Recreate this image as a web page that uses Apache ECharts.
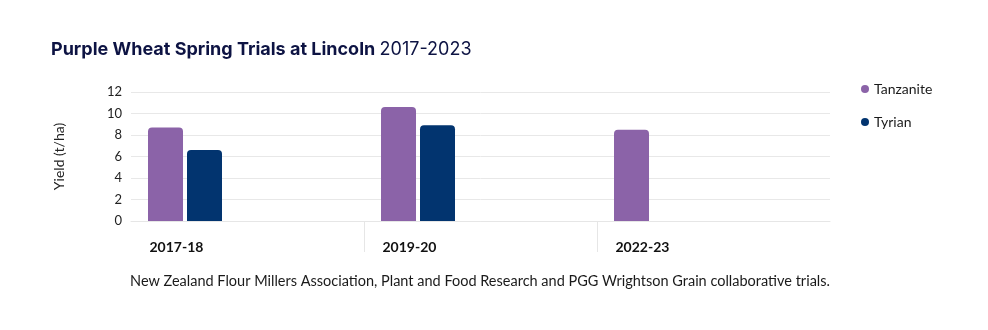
<!DOCTYPE html>
<html>
<head>
<meta charset="utf-8">
<script src="https://cdn.jsdelivr.net/npm/echarts@6/dist/echarts.min.js"></script>
<style>
html,body{margin:0;padding:0;background:#fff;}
#chart{width:988px;height:330px;}
</style>
</head>
<body>
<div id="chart"></div>
<script>
const categories = ['2017-18', '2019-20', '2022-23'];
const tanzanite = [8.7, 10.6, 8.5];
const tyrian = [6.6, 8.9, null];
const spacer = [null, null, null];
const seriesNames = ['Tanzanite', 'Tyrian'];
const yTicks = [0, 2, 4, 6, 8, 10, 12];
const boundaryTicks = [1, 2];

const FONT = 'Lato';
const TITLE_FONT = 'Inter';
const chart = echarts.init(document.getElementById('chart'), null, {renderer: 'canvas'});

chart.setOption({
  animation: false,
  backgroundColor: '#ffffff',
  textStyle: {fontFamily: FONT},
  title: [
    {
      text: '{b|Purple Wheat Spring Trials at Lincoln} {r|2017-2023}',
      left: 51,
      top: 41,
      padding: 0,
      textStyle: {
        rich: {
          b: {fontFamily: TITLE_FONT, fontSize: 18, fontWeight: 'bold', color: '#0d1343'},
          r: {fontFamily: TITLE_FONT, fontSize: 18, fontWeight: 'normal', color: '#0d1343'}
        }
      }
    },
    {
      text: 'New Zealand Flour Millers Association, Plant and Food Research and PGG Wrightson Grain collaborative trials.',
      left: 480,
      textAlign: 'center',
      top: 274,
      padding: 0,
      textStyle: {fontFamily: FONT, fontSize: 14.5, fontWeight: 'normal', color: '#1a1a1a'}
    }
  ],
  legend: {
    data: seriesNames,
    orient: 'vertical',
    left: 861,
    top: 82,
    padding: 0,
    icon: 'circle',
    itemWidth: 8,
    itemHeight: 8,
    itemGap: 19,
    textStyle: {fontFamily: FONT, fontSize: 14, color: '#1a1a1a'}
  },
  grid: {left: 131, width: 699, top: 92, height: 129, containLabel: false},
  xAxis: [
    {
      type: 'category',
      data: categories,
      axisLine: {show: true, lineStyle: {color: '#e6e6e6', width: 1}},
      axisTick: {show: false},
      axisLabel: {
        interval: 0,
        align: 'left',
        padding: [0, 0, 0, -98],
        margin: 19,
        fontFamily: FONT,
        fontSize: 14,
        fontWeight: 'bold',
        color: '#111111'
      }
    },
    {
      type: 'value',
      min: 0,
      max: 3,
      position: 'bottom',
      axisLine: {show: false},
      axisLabel: {show: false},
      splitLine: {show: false},
      axisTick: {show: true, length: 31, customValues: boundaryTicks, lineStyle: {color: '#e6e6e6', width: 1}}
    }
  ],
  yAxis: {
    type: 'value',
    min: 0,
    max: 12,
    interval: 2,
    name: 'Yield (t/ha)',
    nameLocation: 'middle',
    nameGap: 65,
    nameRotate: 90,
    nameTextStyle: {fontFamily: FONT, fontSize: 14, color: '#222222'},
    axisLine: {show: false},
    axisTick: {show: false},
    axisLabel: {
      margin: 9,
      fontFamily: FONT,
      fontSize: 13,
      color: '#222222',
      customValues: yTicks
    },
    splitLine: {lineStyle: {color: '#e8e8e8', width: 1}}
  },
  series: [
    {
      name: seriesNames[0],
      type: 'bar',
      xAxisIndex: 0,
      data: tanzanite,
      barWidth: 35,
      barGap: '11.4%',
      itemStyle: {color: '#8b63a8', borderRadius: [4, 4, 0, 0]}
    },
    {
      name: seriesNames[1],
      type: 'bar',
      xAxisIndex: 0,
      data: tyrian,
      barWidth: 35,
      barGap: '11.4%',
      itemStyle: {color: '#02346f', borderRadius: [4, 4, 0, 0]}
    },
    {
      name: 'spacer',
      type: 'bar',
      xAxisIndex: 0,
      data: spacer,
      barWidth: 121,
      barGap: '11.4%',
      silent: true,
      itemStyle: {color: 'rgba(0,0,0,0)'}
    }
  ]
});
</script>
</body>
</html>
